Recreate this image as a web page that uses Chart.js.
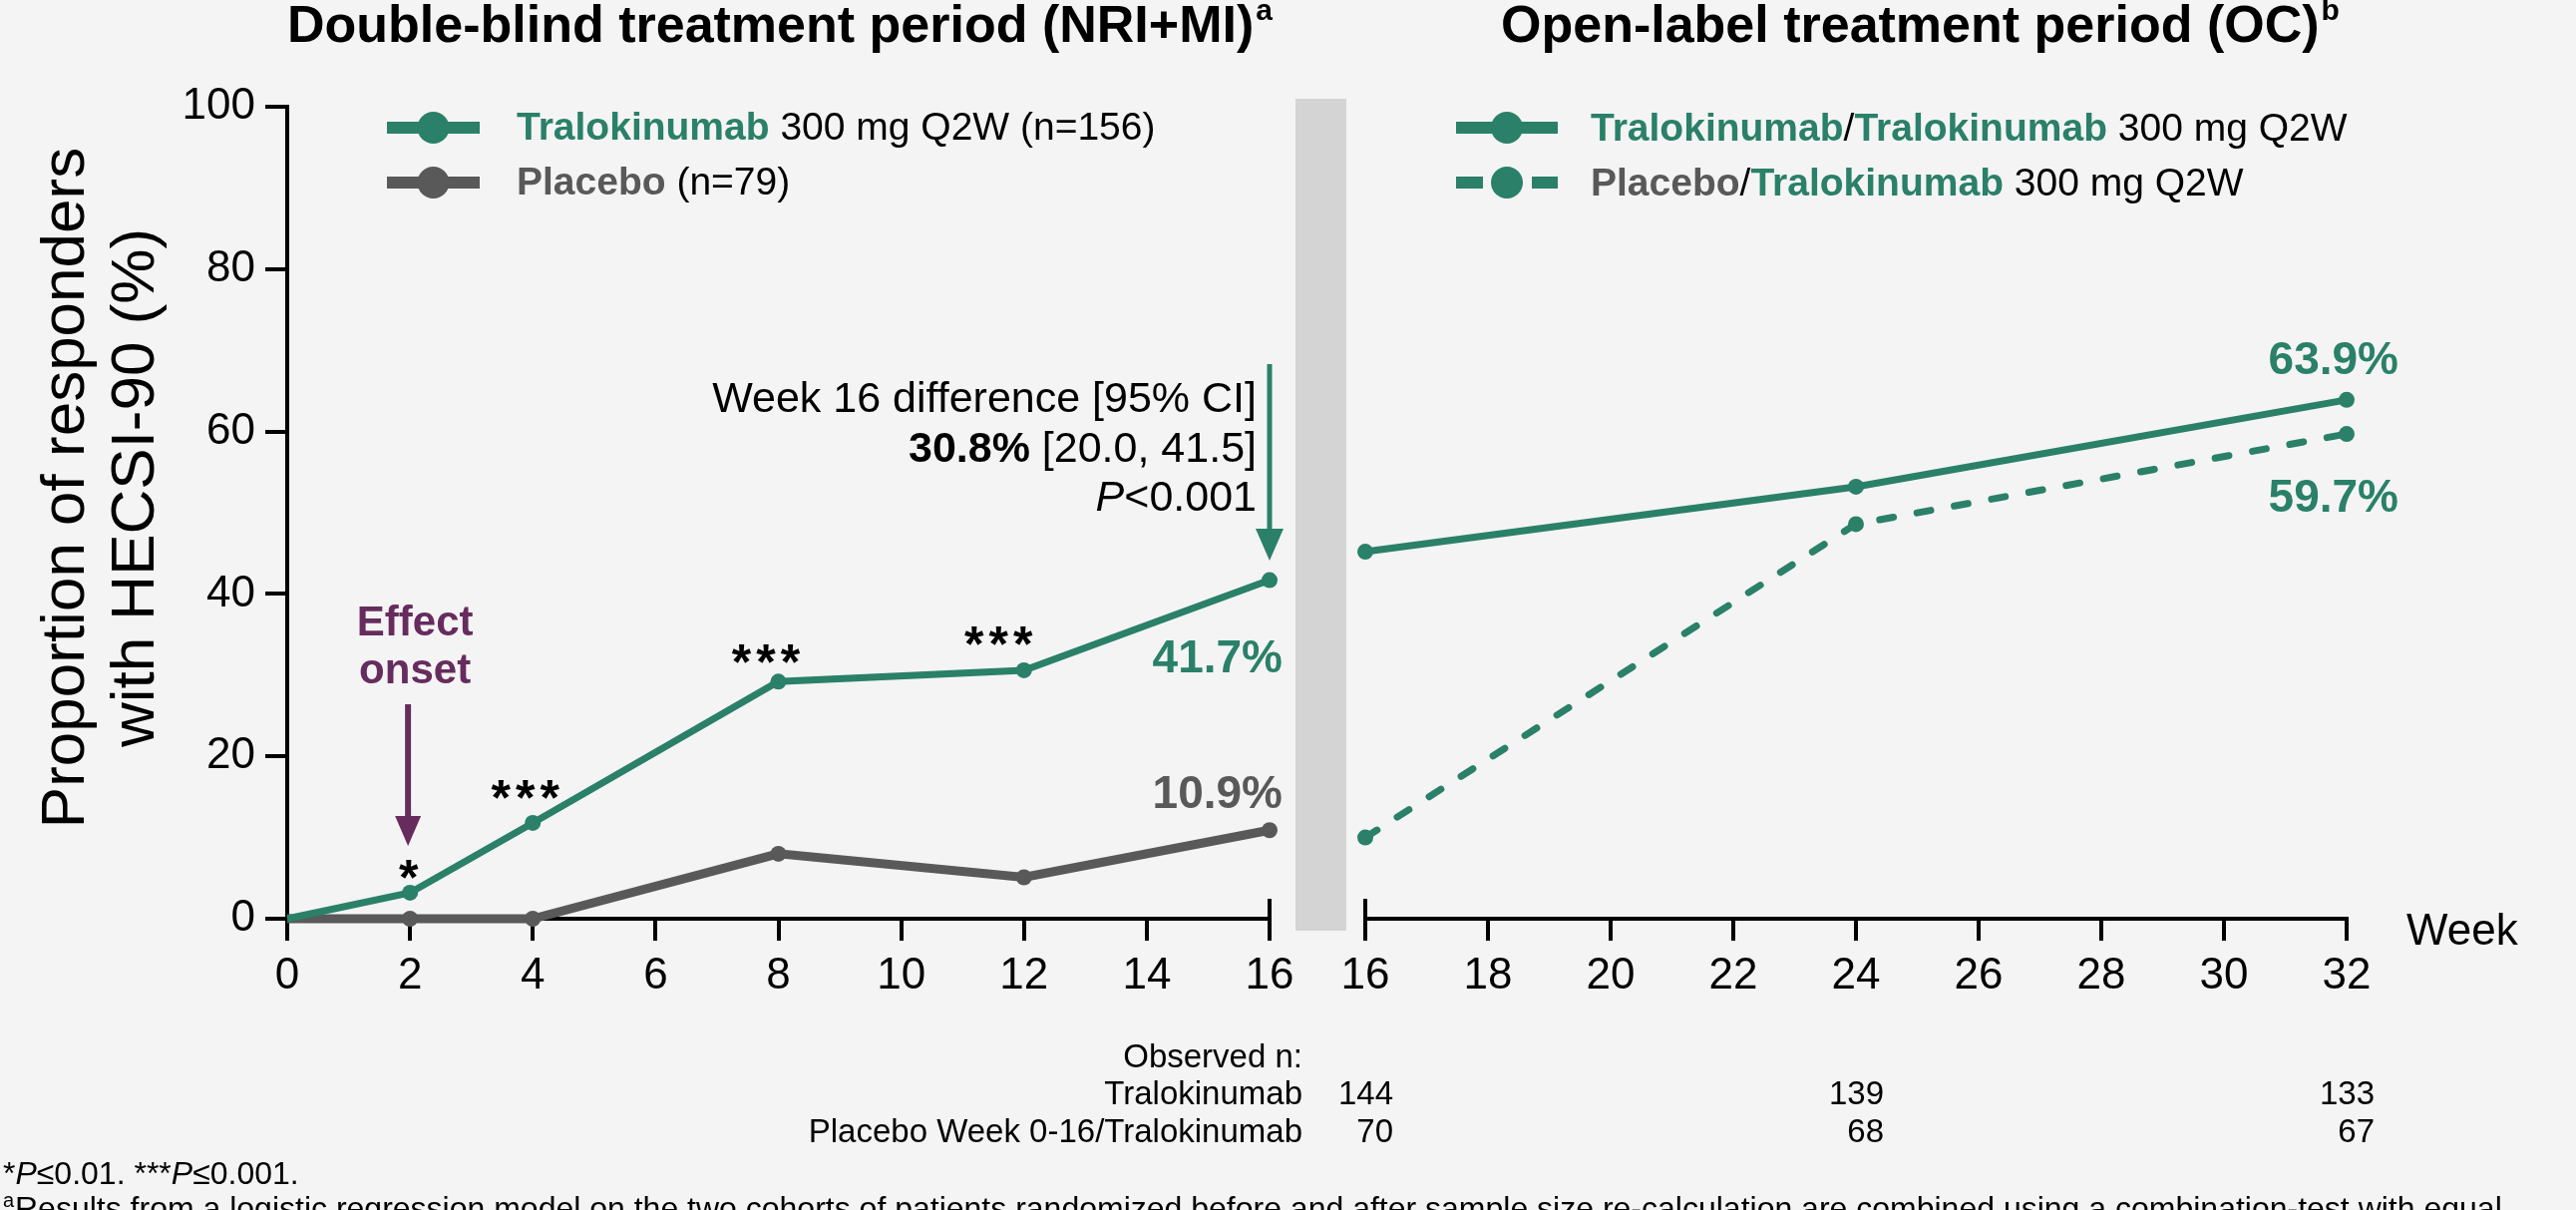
<!DOCTYPE html>
<html>
<head>
<meta charset="utf-8">
<title>HECSI-90 responders</title>
<script src="https://cdn.jsdelivr.net/npm/chart.js@4.4.1/dist/chart.umd.min.js"></script>
<style>
  html, body { margin: 0; padding: 0; background: #f4f4f4; }
  #wrap { position: relative; width: 2583px; height: 1213px; overflow: hidden; }
  canvas { position: absolute; left: 0; top: 0; }
</style>
</head>
<body>
<div id="wrap">
  <canvas id="left" width="2583" height="1213"></canvas>
  <canvas id="right" width="2583" height="1213"></canvas>
</div>
<script>
// double-blind period, weeks 0-16 (NRI+MI)
const dbWeeks = [0, 2, 4, 8, 12, 16];
const dbTralo = [0, 3.2, 11.8, 29.2, 30.6, 41.7];
const dbPlacebo = [0, 0, 0, 8.0, 5.1, 10.9];
const dbStars = ['', '*', '***', '***', '***', ''];

// open-label period, weeks 16-32 (OC)
const olWeeks = [16, 24, 32];
const olTralo = [45.2, 53.2, 63.9];
const olPlacebo = [10.0, 48.6, 59.7];

// observed n row under the axis
const nWeeks = [16, 24, 32];
const nTralo = [144, 139, 133];
const nPlacebo = [70, 68, 67];

// tick labels
const yTicks = [0, 20, 40, 60, 80, 100];
const dbTickWeeks = [0, 2, 4, 6, 8, 10, 12, 14, 16];
const olTickWeeks = [16, 18, 20, 22, 24, 26, 28, 30, 32];

const FONT = '"Liberation Sans", Arial, sans-serif';
const GREEN = '#2a8068', GRAY = '#595959', PURPLE = '#672c5e', BLACK = '#000';

Chart.defaults.font.family = FONT;
Chart.defaults.color = BLACK;

function font(size, bold, italic) {
  return (italic ? 'italic ' : '') + (bold ? 'bold ' : '') + size + 'px ' + FONT;
}

// draw a line of mixed-style text: parts = [text, color, bold, italic]
function runs(ctx, x, y, size, parts, align) {
  let total = 0;
  parts.forEach(p => { ctx.font = font(size, p[2], p[3]); total += ctx.measureText(p[0]).width; });
  let cx = align === 'right' ? x - total : align === 'center' ? x - total / 2 : x;
  ctx.textAlign = 'left';
  ctx.textBaseline = 'alphabetic';
  parts.forEach(p => {
    ctx.font = font(size, p[2], p[3]);
    ctx.fillStyle = p[1];
    ctx.fillText(p[0], cx, y);
    cx += ctx.measureText(p[0]).width;
  });
  return cx;
}

function line(ctx, x0, y0, x1, y1, color, w) {
  ctx.beginPath();
  ctx.moveTo(x0, y0);
  ctx.lineTo(x1, y1);
  ctx.strokeStyle = color;
  ctx.lineWidth = w;
  ctx.lineCap = 'butt';
  ctx.stroke();
}

function arrowDown(ctx, x, yTop, yTip, headLen, headW, color, w) {
  line(ctx, x, yTop, x, yTip - headLen + 2, color, w);
  ctx.beginPath();
  ctx.moveTo(x - headW / 2, yTip - headLen);
  ctx.lineTo(x + headW / 2, yTip - headLen);
  ctx.lineTo(x, yTip);
  ctx.closePath();
  ctx.fillStyle = color;
  ctx.fill();
}

function legendMark(ctx, x0, x1, y, color, dashed) {
  const mid = (x0 + x1) / 2;
  if (dashed) {
    line(ctx, x0, y, x0 + 27, y, color, 12);
    line(ctx, x1 - 26, y, x1, y, color, 12);
  } else {
    line(ctx, x0, y, x1, y, color, 12);
  }
  ctx.beginPath();
  ctx.arc(mid, y, 16, 0, Math.PI * 2);
  ctx.fillStyle = color;
  ctx.fill();
}

function weekAxis(min, max, list) {
  return {
    type: 'linear', min: min, max: max,
    afterFit: s => { s.height = 80; },
    afterBuildTicks: s => { s.ticks = list.map(v => ({ value: v })); },
    ticks: { font: { size: 44 }, color: BLACK, padding: 9, maxRotation: 0, autoSkip: false },
    grid: { drawOnChartArea: false, tickLength: 22, lineWidth: 4, color: BLACK },
    border: { width: 4, color: BLACK }
  };
}

const pts = (xs, ys) => xs.map((w, i) => ({ x: w, y: ys[i] }));

const dbExtras = {
  id: 'dbExtras',
  beforeDraw(chart) {
    const ctx = chart.ctx;
    ctx.save();
    ctx.fillStyle = '#d4d4d4';
    ctx.fillRect(1299, 99, 51, 834);
    ctx.restore();
  },
  afterDraw(chart) {
    const { ctx, scales: { x, y } } = chart;
    ctx.save();
    const x16 = x.getPixelForValue(16);
    line(ctx, x16, y.bottom + 2, x16, y.bottom - 20, BLACK, 4);

    // panel title
    const end = runs(ctx, 288, 42, 52, [['Double-blind treatment period (NRI+MI)', BLACK, true]]);
    runs(ctx, end + 2, 20, 30, [['a', BLACK, true]]);

    // y axis title
    ctx.fillStyle = BLACK;
    ctx.font = font(62);
    ctx.textAlign = 'center';
    ctx.textBaseline = 'middle';
    [['Proportion of responders', 67], ['with HECSI-90 (%)', 137]].forEach(t => {
      ctx.save();
      ctx.translate(t[1], 489);
      ctx.rotate(-Math.PI / 2);
      ctx.fillText(t[0], 0, 0);
      ctx.restore();
    });

    // legend
    legendMark(ctx, 388, 481, 128, GREEN, false);
    runs(ctx, 518, 140, 39, [['Tralokinumab', GREEN, true], [' 300 mg Q2W (n=156)', BLACK]]);
    legendMark(ctx, 388, 481, 183, GRAY, false);
    runs(ctx, 518, 195, 39, [['Placebo', GRAY, true], [' (n=79)', BLACK]]);

    // significance stars
    const starDx = [0, -2, -8, -13, -26, 0];
    const starDy = [0, 27, 37, 31, 38, 0];
    ctx.font = font(50, true);
    ctx.letterSpacing = '5px';
    ctx.fillStyle = BLACK;
    ctx.textAlign = 'center';
    ctx.textBaseline = 'alphabetic';
    dbStars.forEach((s, i) => {
      if (!s) return;
      const px = x.getPixelForValue(dbWeeks[i]) + starDx[i];
      const py = y.getPixelForValue(dbTralo[i]) - starDy[i];
      ctx.fillText(s, px + 3, py + 29);
    });
    ctx.letterSpacing = '0px';

    // effect onset
    const x2 = x.getPixelForValue(2);
    runs(ctx, x2 + 5, 637, 42, [['Effect', PURPLE, true]], 'center');
    runs(ctx, x2 + 5, 685, 42, [['onset', PURPLE, true]], 'center');
    arrowDown(ctx, x2 - 2, 706, 848, 30, 26, PURPLE, 6);

    // week 16 difference
    runs(ctx, 1260, 413, 43, [['Week 16 difference [95% CI]', BLACK]], 'right');
    runs(ctx, 1260, 463, 43, [['30.8%', BLACK, true], [' [20.0, 41.5]', BLACK]], 'right');
    runs(ctx, 1260, 512, 43, [['P', BLACK, false, true], ['<0.001', BLACK]], 'right');
    arrowDown(ctx, x16, 365, 562, 32, 28, GREEN, 5);

    // end values
    runs(ctx, x16 + 13, y.getPixelForValue(dbTralo[5]) + 92, 46, [[dbTralo[5].toFixed(1) + '%', GREEN, true]], 'right');
    runs(ctx, x16 + 13, y.getPixelForValue(dbPlacebo[5]) - 22, 46, [[dbPlacebo[5].toFixed(1) + '%', GRAY, true]], 'right');
    ctx.restore();
  }
};

const olExtras = {
  id: 'olExtras',
  afterDraw(chart) {
    const { ctx, scales: { x, y } } = chart;
    ctx.save();
    const x16 = x.getPixelForValue(16);
    line(ctx, x16, y.bottom + 2, x16, y.bottom - 20, BLACK, 4);

    const end = runs(ctx, 1505, 42, 52, [['Open-label treatment period (OC)', BLACK, true]]);
    runs(ctx, end + 2, 20, 30, [['b', BLACK, true]]);

    legendMark(ctx, 1460, 1562, 128, GREEN, false);
    runs(ctx, 1595, 141, 39, [['Tralokinumab', GREEN, true], ['/', BLACK], ['Tralokinumab', GREEN, true], [' 300 mg Q2W', BLACK]]);
    legendMark(ctx, 1460, 1562, 183, GREEN, true);
    runs(ctx, 1595, 196, 39, [['Placebo', GRAY, true], ['/', BLACK], ['Tralokinumab', GREEN, true], [' 300 mg Q2W', BLACK]]);

    const x32 = x.getPixelForValue(32);
    runs(ctx, x32 + 52, y.getPixelForValue(olTralo[2]) - 26, 46, [[olTralo[2].toFixed(1) + '%', GREEN, true]], 'right');
    runs(ctx, x32 + 52, y.getPixelForValue(olPlacebo[2]) + 78, 46, [[olPlacebo[2].toFixed(1) + '%', GREEN, true]], 'right');

    runs(ctx, x32 + 60, 947, 44, [['Week', BLACK]]);

    // observed n table
    runs(ctx, 1306, 1070, 33, [['Observed n:', BLACK]], 'right');
    runs(ctx, 1306, 1107, 33, [['Tralokinumab', BLACK]], 'right');
    runs(ctx, 1306, 1145, 33, [['Placebo Week 0-16/Tralokinumab', BLACK]], 'right');
    nWeeks.forEach((w, i) => {
      const px = x.getPixelForValue(w) + 28;
      runs(ctx, px, 1107, 33, [[String(nTralo[i]), BLACK]], 'right');
      runs(ctx, px, 1145, 33, [[String(nPlacebo[i]), BLACK]], 'right');
    });

    // footnotes
    runs(ctx, 3, 1187, 32, [['*', BLACK], ['P', BLACK, false, true], ['\u22640.01. ***', BLACK], ['P', BLACK, false, true], ['\u22640.001.', BLACK]]);
    runs(ctx, 3, 1210, 20, [['a', BLACK]]);
    runs(ctx, 15, 1222, 32, [['Results from a logistic regression model on the two cohorts of patients randomized before and after sample size re-calculation are combined using a combination-test with equal', BLACK]]);
    ctx.restore();
  }
};

const common = {
  responsive: false,
  animation: false,
  devicePixelRatio: 1,
  plugins: { legend: { display: false }, tooltip: { enabled: false } },
  elements: { line: { tension: 0 } }
};

new Chart(document.getElementById('left'), {
  type: 'line',
  data: {
    datasets: [
      {
        label: 'Tralokinumab 300 mg Q2W (n=156)',
        data: pts(dbWeeks, dbTralo),
        borderColor: GREEN, backgroundColor: GREEN, borderWidth: 7,
        pointRadius: dbWeeks.map(w => (w === 0 ? 0 : 8)),
        pointBorderWidth: 0, pointBackgroundColor: GREEN, clip: false
      },
      {
        label: 'Placebo (n=79)',
        data: pts(dbWeeks, dbPlacebo),
        borderColor: GRAY, backgroundColor: GRAY, borderWidth: 9,
        pointRadius: dbWeeks.map(w => (w === 0 ? 0 : 8)),
        pointBorderWidth: 0, pointBackgroundColor: GRAY, clip: false
      }
    ]
  },
  options: Object.assign({}, common, {
    layout: { autoPadding: false, padding: { left: 0, top: 107, right: 1310, bottom: 212 } },
    scales: {
      x: weekAxis(0, 16, dbTickWeeks),
      y: {
        min: 0, max: 100,
        afterFit: s => { s.width = 288; },
        afterBuildTicks: s => { s.ticks = yTicks.map(v => ({ value: v })); },
        ticks: { font: { size: 44 }, color: BLACK, padding: 10 },
        grid: { drawOnChartArea: false, tickLength: 22, lineWidth: 4, color: BLACK },
        border: { width: 4, color: BLACK }
      }
    }
  }),
  plugins: [dbExtras]
});

new Chart(document.getElementById('right'), {
  type: 'line',
  data: {
    datasets: [
      {
        label: 'Tralokinumab/Tralokinumab 300 mg Q2W',
        data: pts(olWeeks, olTralo),
        borderColor: GREEN, backgroundColor: GREEN, borderWidth: 7,
        pointRadius: 8, pointBorderWidth: 0, pointBackgroundColor: GREEN, clip: false
      },
      {
        label: 'Placebo/Tralokinumab 300 mg Q2W',
        data: pts(olWeeks, olPlacebo),
        borderColor: GREEN, backgroundColor: GREEN, borderWidth: 7,
        borderDash: [14, 24], borderCapStyle: 'round',
        pointRadius: 8, pointBorderWidth: 0, pointBackgroundColor: GREEN, clip: false
      }
    ]
  },
  options: Object.assign({}, common, {
    layout: { autoPadding: false, padding: { left: 1369, top: 107, right: 230, bottom: 212 } },
    scales: {
      x: weekAxis(16, 32, olTickWeeks),
      y: { display: false, min: 0, max: 100 }
    }
  }),
  plugins: [olExtras]
});
</script>
</body>
</html>
